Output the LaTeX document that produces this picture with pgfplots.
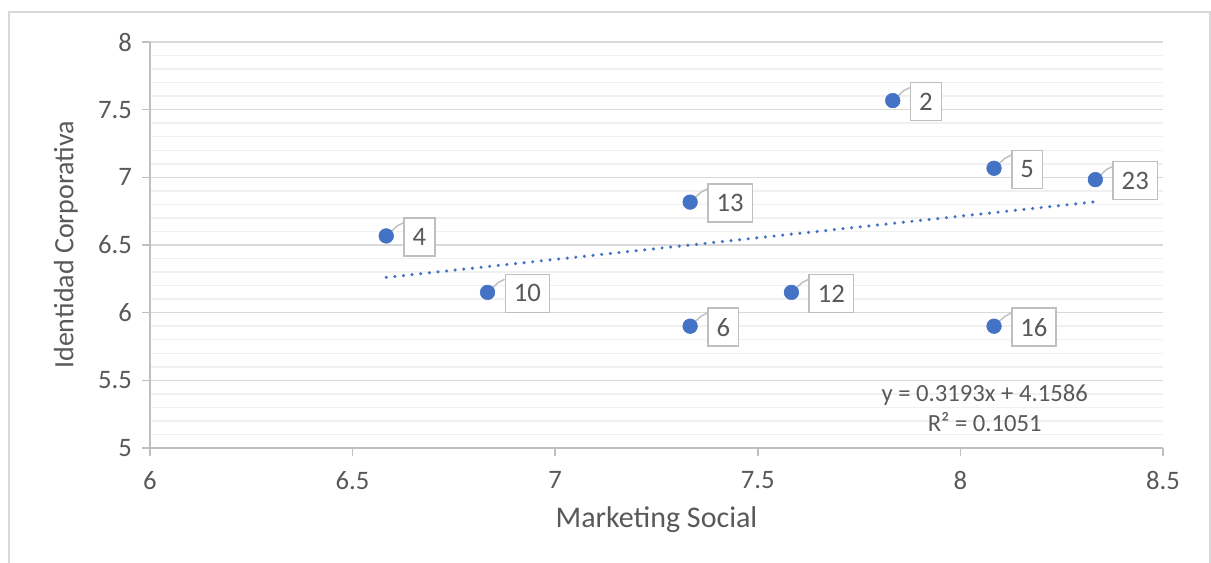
\documentclass[border=0pt]{standalone}
\usepackage{fontspec}
\setmainfont{Carlito}
\usepackage{pgfplots}
\usepackage{pgfplotstable}
\pgfplotsset{compat=1.18}
\definecolor{txt}{RGB}{89,89,89}
\definecolor{majg}{RGB}{217,217,217}
\definecolor{ming}{RGB}{240,240,240}
\definecolor{axl}{RGB}{191,191,191}
\definecolor{blu}{RGB}{68,114,196}
\pgfdeclareplotmark{leader}{%
  \pgfpathmoveto{\pgfpointorigin}%
  \pgfpathlineto{\pgfpoint{8.25pt}{7.5pt}}%
  \pgfpathlineto{\pgfpoint{12.75pt}{9.75pt}}%
  \pgfusepathqstroke}
\pgfplotstableread{
x y label
6.583 6.567 4
6.833 6.150 10
7.333 6.817 13
7.333 5.900 6
7.583 6.150 12
7.833 7.567 2
8.083 7.067 5
8.083 5.900 16
8.333 6.983 23
}\data
\begin{document}
\begin{tikzpicture}
\useasboundingbox (0,0) rectangle (908.25pt,422.25pt);
\draw[majg, line width=1.5pt] (6.75pt,-5pt) -- (6.75pt,413.25pt) -- (907.5pt,413.25pt) -- (907.5pt,-5pt);
\begin{axis}[
  at={(112.5pt,86.25pt)}, anchor=south west,
  width=759.75pt, height=304.5pt, scale only axis,
  xmin=6, xmax=8.5, ymin=5, ymax=8,
  xtick={6,6.5,7,7.5,8,8.5}, ytick={5,5.5,6,6.5,7,7.5,8},
  xticklabels={6,6.5,7,7.5,8,8.5},
  yticklabels={5,5.5,6,6.5,7,7.5,8},
  minor y tick num=4,
  axis lines*=left,
  axis line style={axl, line width=1.1pt},
  ymajorgrids, yminorgrids,
  major grid style={majg, line width=1.1pt},
  minor grid style={ming, line width=1.1pt},
  tick align=outside,
  major tick length=6pt,
  minor tick length=0pt,
  tick style={axl, line width=1.1pt},
  ticklabel style={font=\fontsize{20}{22}\selectfont, text=txt},
  xticklabel style={yshift=-8pt},
  yticklabel style={xshift=-4pt},
  clip=false,
]
\addplot[blu, line width=2.6pt, line cap=round, dash pattern=on 0pt off 6.5pt] coordinates {(6.583,6.2606) (8.333,6.8193)};
\addplot[only marks, mark=leader, mark options={axl, line width=1.1pt},
  point meta=explicit symbolic, nodes near coords,
  every node near coord/.append style={anchor=west, xshift=12.75pt, yshift=-0.75pt,
    draw=axl, line width=1.1pt, fill=white, text=txt,
    font=\fontsize{20}{22}\selectfont, inner xsep=6.5pt, minimum height=28.5pt}]
  table[x=x, y=y, meta=label] {\data};
\addplot[only marks, mark=*, mark size=5.5pt, mark options={fill=blu, draw=blu}]
  table[x=x, y=y] {\data};
\node[align=center, text=txt, font=\fontsize{18.5}{22.5}\selectfont] at (axis cs:8.06,5.295) {y = 0.3193x + 4.1586\\R² = 0.1051};
\end{axis}
\node[text=txt, font=\fontsize{22.5}{26}\selectfont] at (492.4pt,32.25pt) {Marketing Social};
\node[text=txt, font=\fontsize{21}{24}\selectfont, rotate=90] at (49.5pt,238.5pt) {Identidad Corporativa};
\end{tikzpicture}
\end{document}
